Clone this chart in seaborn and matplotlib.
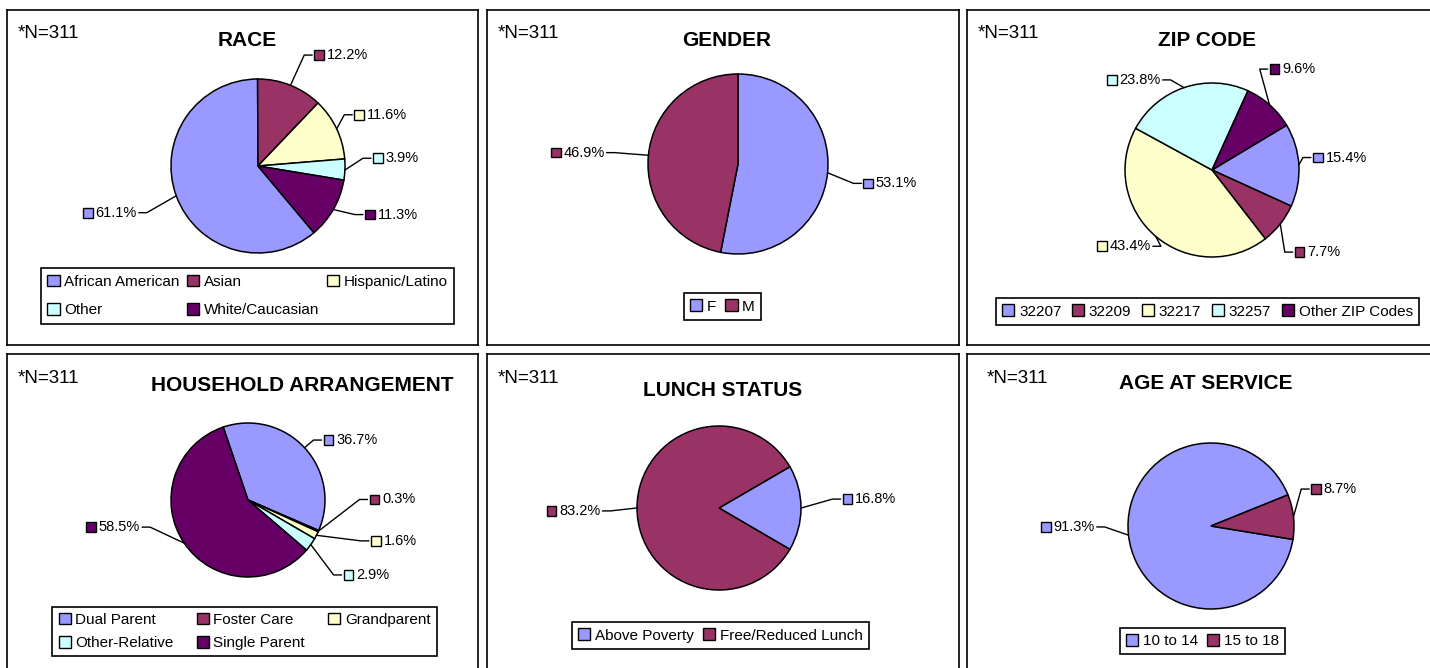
import matplotlib
matplotlib.use("Agg")
import matplotlib.pyplot as plt
from matplotlib.patches import Patch, Rectangle
from matplotlib.offsetbox import AnnotationBbox, DrawingArea, HPacker, TextArea
import numpy as np
import seaborn as sns

# data
race_labels = ["African American", "Asian", "Hispanic/Latino", "Other", "White/Caucasian"]
race_pct = [61.1, 12.2, 11.6, 3.9, 11.3]

gender_labels = ["F", "M"]
gender_pct = [53.1, 46.9]

zip_labels = ["32207", "32209", "32217", "32257", "Other ZIP Codes"]
zip_pct = [15.4, 7.7, 43.4, 23.8, 9.6]

household_labels = ["Dual Parent", "Foster Care", "Grandparent", "Other-Relative", "Single Parent"]
household_pct = [36.7, 0.3, 1.6, 2.9, 58.5]

lunch_labels = ["Above Poverty", "Free/Reduced Lunch"]
lunch_pct = [16.8, 83.2]

age_labels = ["10 to 14", "15 to 18"]
age_pct = [91.3, 8.7]

n_text = "*N=311"

W, H = 1430, 668

sns.set_style("white")
plt.rcParams["font.family"] = ["Liberation Sans", "DejaVu Sans"]
plt.rcParams["text.color"] = "black"
palette = sns.color_palette(["#9999FF", "#993366", "#FFFFCC", "#CCFFFF", "#660066"])

fig = plt.figure(figsize=(W / 100, H / 100), dpi=100)


def row_major(n, ncol):
    # matplotlib fills legend columns first, reorder so entries read across rows
    rows = int(np.ceil(n / ncol))
    order = []
    for c in range(ncol):
        for r in range(rows):
            i = r * ncol + c
            if i < n:
                order.append(i)
    return order


def draw_panel(title, labels, pct, lay):
    x0, y0, x1, y1 = lay["box"]
    ax = fig.add_axes([x0 / W, 1 - y1 / H, (x1 - x0) / W, (y1 - y0) / H])
    cx, cy = lay["center"][0], H - lay["center"][1]
    r = lay["radius"]
    colors = palette[:len(pct)]

    ax.pie(pct, colors=colors, startangle=lay["start"], counterclock=False,
           center=(cx, cy), radius=r, frame=True,
           wedgeprops=dict(edgecolor="black", linewidth=1.1))
    ax.set_xlim(x0, x1)
    ax.set_ylim(H - y1, H - y0)
    ax.set_aspect("auto")
    ax.set_xticks([])
    ax.set_yticks([])
    for s in ax.spines.values():
        s.set_visible(True)
        s.set_color("black")
        s.set_linewidth(1.2)

    # percentage labels with leader lines
    cum = np.cumsum([0] + list(pct[:-1]))
    for i, (v, c0) in enumerate(zip(pct, cum)):
        mid = np.deg2rad(lay["start"] - (c0 + v / 2) * 3.6)
        ex, ey = cx + r * np.cos(mid), cy + r * np.sin(mid)
        right = np.cos(mid) >= 0
        dx, dy = lay["nudge"][i]
        lx = cx + 1.3 * r * np.cos(mid) + dx
        ly = cy + 1.3 * r * np.sin(mid) + dy
        sgn = 1 if right else -1
        ax.plot([ex, lx - sgn * 10, lx - sgn * 2], [ey, ly, ly], color="black", lw=1)
        da = DrawingArea(7, 7)
        da.add_artist(Rectangle((0, 0), 7, 7, fc=colors[i], ec="black", lw=1))
        ta = TextArea(f"{v:.1f}%", textprops=dict(fontsize=10.5, color="black"))
        box = HPacker(children=[da, ta], align="center", pad=0, sep=2)
        ab = AnnotationBbox(box, (lx, ly), box_alignment=(0 if right else 1, 0.5),
                            frameon=False, pad=0)
        ax.add_artist(ab)

    ax.text(lay["title"][0], H - lay["title"][1], title, ha="center", va="center",
            fontsize=15, fontweight="bold", color="black")
    ax.text(x0 + lay["ndx"], H - lay["ny"], n_text, ha="left", va="center",
            fontsize=13.5, color="black")

    ncol = lay["ncol"]
    order = row_major(len(labels), ncol)
    handles = [Patch(fc=colors[i], ec="black", lw=1, label=labels[i]) for i in order]
    leg = ax.legend(handles=handles, ncol=ncol, loc="center",
                    bbox_to_anchor=(lay["legend"][0], H - lay["legend"][1]),
                    bbox_transform=ax.transData, fontsize=11, frameon=True,
                    fancybox=False, edgecolor="black", framealpha=1,
                    handlelength=0.8, handleheight=0.8, handletextpad=0.3,
                    columnspacing=lay["csp"], labelspacing=lay["lsp"], borderpad=0.4)
    leg.get_frame().set_linewidth(1.2)
    for t in leg.get_texts():
        t.set_color("black")


layouts = {
    "RACE": dict(box=(7, 10, 478, 345), center=(258, 166), radius=87, start=-50,
                 nudge=[(-15, -8), (14, 6), (-6, 3), (2, 13), (9, 8)],
                 title=(247, 41), ny=34, ndx=11, legend=(247.5, 296), ncol=3,
                 lsp=0.95, csp=0.5),
    "GENDER": dict(box=(487, 10, 959, 345), center=(738, 164), radius=90, start=90,
                   nudge=[(9, -8), (-17, 0)],
                   title=(727, 41), ny=34, ndx=11, legend=(722.5, 306.5), ncol=2,
                   lsp=0.6, csp=0.6),
    "ZIP CODE": dict(box=(967, 10, 1440, 345), center=(1212, 170), radius=87, start=31,
                     nudge=[(-12, 6), (-6, -12), (12, 10), (-15, -17), (-17, 16)],
                     title=(1207, 41), ny=34, ndx=11, legend=(1207.5, 311.5), ncol=5,
                     lsp=0.6, csp=0.7),
    "HOUSEHOLD ARRANGEMENT": dict(box=(7, 354, 478, 690), center=(248, 500), radius=77,
                                  start=108.8,
                                  nudge=[(2, -8), (30, 41), (34, 5), (14, -17), (-25, 29)],
                                  title=(302, 385), ny=378, ndx=11, legend=(244.5, 631.5),
                                  ncol=3, lsp=0.6, csp=1.5),
    "LUNCH STATUS": dict(box=(487, 354, 959, 690), center=(719, 508), radius=82, start=30.2,
                         nudge=[(17, 9), (-12, -3)],
                         title=(723, 390), ny=378, ndx=11, legend=(720.5, 635.5), ncol=2,
                         lsp=0.6, csp=0.6),
    "AGE AT SERVICE": dict(box=(967, 354, 1440, 690), center=(1211, 526), radius=83, start=-9.3,
                           nudge=[(-9, 11), (-7, 25)],
                           title=(1206, 383), ny=378, ndx=20, legend=(1202.5, 641), ncol=2,
                           lsp=0.6, csp=0.6),
}

draw_panel("RACE", race_labels, race_pct, layouts["RACE"])
draw_panel("GENDER", gender_labels, gender_pct, layouts["GENDER"])
draw_panel("ZIP CODE", zip_labels, zip_pct, layouts["ZIP CODE"])
draw_panel("HOUSEHOLD ARRANGEMENT", household_labels, household_pct, layouts["HOUSEHOLD ARRANGEMENT"])
draw_panel("LUNCH STATUS", lunch_labels, lunch_pct, layouts["LUNCH STATUS"])
draw_panel("AGE AT SERVICE", age_labels, age_pct, layouts["AGE AT SERVICE"])

fig.savefig("out.png", dpi=100)
plt.close(fig)
